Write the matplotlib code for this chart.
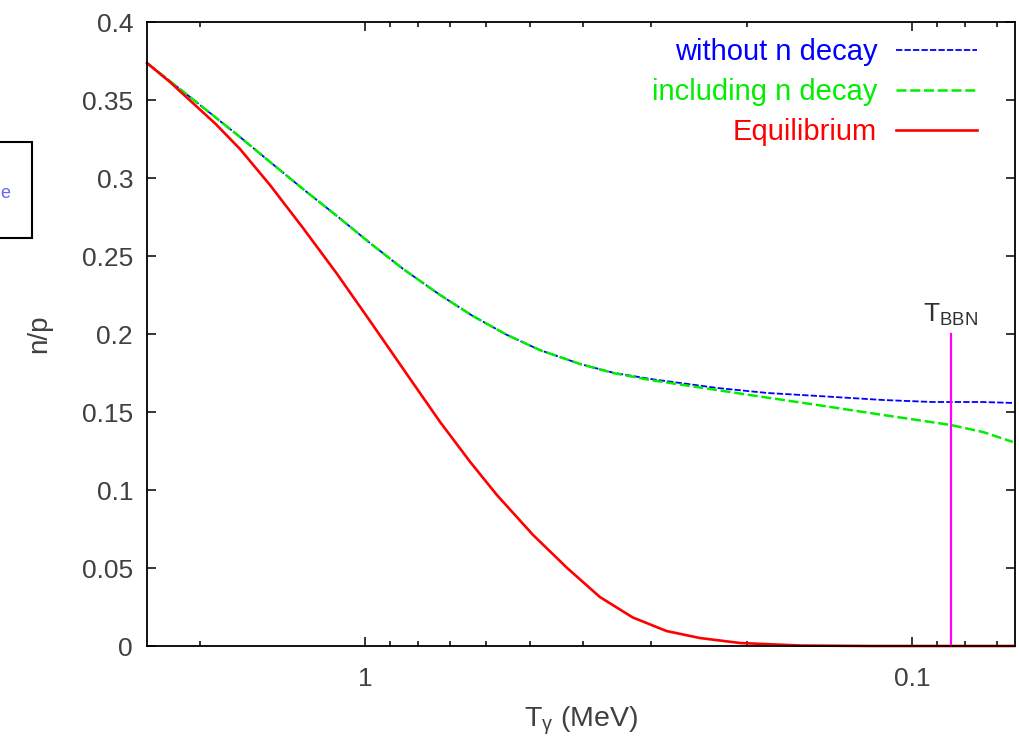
import matplotlib
matplotlib.use("Agg")
import matplotlib.pyplot as plt
from matplotlib.patches import Rectangle
from matplotlib.ticker import LogLocator, NullFormatter

# ---- data ----
T_eq = [2.504, 2.273, 2.089, 1.880, 1.693, 1.492, 1.298, 1.125, 0.979, 0.827,
        0.729, 0.643, 0.574, 0.493, 0.427, 0.372, 0.324, 0.281, 0.244, 0.206,
        0.160, 0.1194, 0.065]
np_eq = [0.3737, 0.3615, 0.3497, 0.3350, 0.3186, 0.2955, 0.2679, 0.2385, 0.2083, 0.1712,
         0.1436, 0.1182, 0.0968, 0.0712, 0.0500, 0.0314, 0.0183, 0.0096, 0.0051, 0.0019,
         0.0003, 0.0, 0.0]

T_incl = [2.504, 2.089, 1.693, 1.492, 1.298, 1.125, 0.979, 0.852, 0.729, 0.635,
          0.550, 0.479, 0.4045, 0.352, 0.301, 0.247, 0.198, 0.149, 0.113, 0.085,
          0.0742, 0.0654]
np_incl = [0.3737, 0.3519, 0.3263, 0.3103, 0.2929, 0.2756, 0.2583, 0.2417, 0.2250, 0.2115,
           0.1994, 0.1897, 0.1808, 0.1750, 0.1705, 0.1660, 0.1609, 0.1545, 0.1481, 0.1417,
           0.1372, 0.1308]

T_nodec = [2.504, 2.089, 1.693, 1.492, 1.298, 1.125, 0.979, 0.852, 0.729, 0.635,
           0.550, 0.479, 0.4045, 0.352, 0.301, 0.227, 0.184, 0.149, 0.113, 0.0916,
           0.0742, 0.0654]
np_nodec = [0.3737, 0.3519, 0.3263, 0.3103, 0.2929, 0.2756, 0.2583, 0.2417, 0.2250, 0.2115,
            0.1994, 0.1897, 0.1808, 0.1752, 0.1712, 0.1654, 0.1622, 0.1603, 0.1577, 0.1564,
            0.1564, 0.1558]

T_bbn = 0.085
bbn_top = 0.2

labels = ["without n decay", "including n decay", "Equilibrium"]
yticks = [0, 0.05, 0.1, 0.15, 0.2, 0.25, 0.3, 0.35, 0.4]
ytick_labels = ["0", "0.05", "0.1", "0.15", "0.2", "0.25", "0.3", "0.35", "0.4"]
xticks = [1, 0.1]
xtick_labels = ["1", "0.1"]

# ---- style ----
plt.rcParams['font.family'] = ['Liberation Sans', 'DejaVu Sans']
plt.rcParams['mathtext.fontset'] = 'custom'
plt.rcParams['mathtext.rm'] = 'Liberation Sans'
txt = '#404040'

fig = plt.figure(figsize=(10.2, 7.41), dpi=100)
ax = fig.add_axes([147/1020, 1-646/741, (1015-147)/1020, (646-22)/741])

ax.plot(T_nodec, np_nodec, color='#0000ff', lw=1.3, dashes=(3.5, 1.2), label=labels[0])
ax.plot(T_incl, np_incl, color='#00ee00', lw=1.8, dashes=(4, 1.5), label=labels[1])
ax.plot(T_eq, np_eq, color='#ff0000', lw=1.9, label=labels[2], clip_on=False)
ax.plot([T_bbn, T_bbn], [0, bbn_top], color='#ff00ff', lw=1.6)
ax.text(T_bbn, bbn_top + 0.004, r'T$_\mathregular{BBN}$', ha='center', va='bottom',
        fontsize=19, color='#303030')

ax.set_xscale('log')
ax.set_xlim(2.504, 0.0648)
ax.set_ylim(0, 0.4)
ax.set_yticks(yticks)
ax.set_yticklabels(ytick_labels)
ax.set_xticks(xticks)
ax.set_xticklabels(xtick_labels)
ax.xaxis.set_minor_locator(LogLocator(base=10, subs=range(2, 10)))
ax.xaxis.set_minor_formatter(NullFormatter())

ax.tick_params(which='both', direction='in', top=True, right=True, colors='black',
               labelcolor=txt, labelsize=19, width=1.1)
ax.tick_params(which='major', length=6.5)
ax.tick_params(axis='y', which='major', pad=10)
ax.tick_params(axis='x', which='major', pad=15)
ax.tick_params(which='minor', length=3.6)
ax.tick_params(axis='y', which='minor', left=False, right=False)
for s in ax.spines.values():
    s.set_linewidth(1.3)

ax.set_ylabel('n/p', fontsize=20, color=txt, labelpad=21)
ax.set_xlabel(r'T$_\mathregular{\gamma}$ (MeV)', fontsize=20.5, color=txt, labelpad=10)

leg = ax.legend(loc='upper right', bbox_to_anchor=(977/1020, 1-38/741),
                bbox_transform=fig.transFigure, frameon=False, markerfirst=False,
                fontsize=21, handlelength=2.77, handletextpad=0.65, labelspacing=0.42,
                borderaxespad=0, borderpad=0)
for t, c in zip(leg.get_texts(), ['#0000ff', '#00ee00', '#ff0000']):
    t.set_color(c)

# cropped box artifact at left edge
fig.patches.append(Rectangle((-5/1020, 1-238/741), 37/1020, 96/741, transform=fig.transFigure,
                             fill=False, edgecolor='black', lw=1.5))
fig.text(5/1020, 1-193/741, 'e', color='#6666ff', fontsize=13, ha='center', va='center')

fig.savefig('out.png', dpi=100)
